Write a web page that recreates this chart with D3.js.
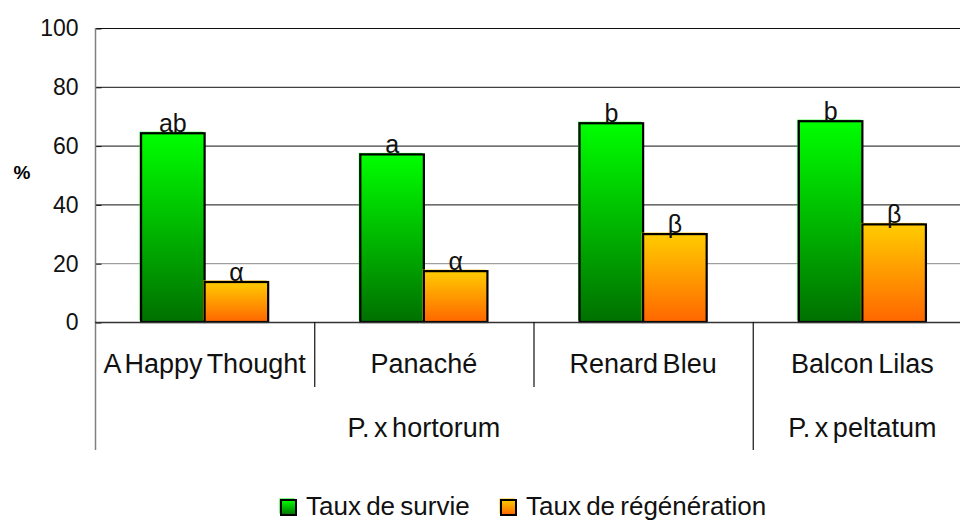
<!DOCTYPE html>
<html>
<head>
<meta charset="utf-8">
<script src="https://cdn.jsdelivr.net/npm/d3@7"></script>
<style>
  body { margin: 0; background: #fff; }
  svg { display: block; font-family: "Liberation Sans", Arial, sans-serif; }
</style>
</head>
<body>
<svg width="960" height="523"></svg>
<script>
// data
var cultivars = ["A Happy Thought", "Panaché", "Renard Bleu", "Balcon Lilas"];
var species = ["P. x hortorum", "P. x hortorum", "P. x hortorum", "P. x peltatum"];
var seriesNames = ["Taux de survie", "Taux de régénération"];
var survie = [64.2, 57.0, 67.6, 68.3];
var regeneration = [13.6, 17.3, 29.9, 33.2];
var survieLetters = ["ab", "a", "b", "b"];
var regenLetters = ["α", "α", "β", "β"];
var yTicks = [0, 20, 40, 60, 80, 100];

var svg = d3.select("svg");

var x = d3.scaleBand().domain(cultivars).range([95, 972]).paddingInner(0).paddingOuter(0);
var xs = d3.scaleBand().domain(seriesNames).range([0, x.bandwidth()]).paddingInner(0).paddingOuter(0.725);
var y = d3.scaleLinear().domain([0, 100]).range([322, 28]);

// gradients
var defs = svg.append("defs");
function grad(id, top, bottom) {
  var g = defs.append("linearGradient").attr("id", id)
    .attr("x1", 0).attr("y1", 0).attr("x2", 0).attr("y2", 1);
  g.append("stop").attr("offset", "0%").attr("stop-color", top);
  g.append("stop").attr("offset", "100%").attr("stop-color", bottom);
}
grad("gGreen", "#00ff00", "#007000");
grad("gOrange", "#ffcc00", "#ff6600");
var fills = ["url(#gGreen)", "url(#gOrange)"];
var edge = ["#00ee00", "#ffc000"];

// grid lines
svg.append("g").selectAll("line")
  .data(yTicks.filter(function (d) { return d > 0; }))
  .enter().append("line")
  .attr("x1", 95).attr("x2", 960)
  .attr("y1", function (d) { return y(d) + 0.5; })
  .attr("y2", function (d) { return y(d) + 0.5; })
  .attr("stroke", function (d) { return d == 20 ? "#888" : "#111"; })
  .attr("stroke-width", 1);

// y axis
var yAxis = svg.append("g").attr("transform", "translate(95.5,0.5)")
  .call(d3.axisLeft(y).tickValues(yTicks).tickSize(7).tickPadding(10));
yAxis.select(".domain").remove();
yAxis.selectAll(".tick line").attr("stroke", "#111").attr("x2", 6);
yAxis.selectAll("text").attr("font-size", 23).attr("fill", "#111")
  .attr("font-family", "'Liberation Sans', Arial, sans-serif");
svg.append("line").attr("x1", 95.5).attr("x2", 95.5).attr("y1", 28).attr("y2", 450)
  .attr("stroke", "#808080").attr("stroke-width", 1.5);

svg.append("text").attr("x", 22).attr("y", 179).attr("text-anchor", "middle")
  .attr("font-size", 19).attr("font-weight", "bold").text("%");

// bars
var rows = cultivars.map(function (c, i) {
  return { cat: c, vals: [survie[i], regeneration[i]], labs: [survieLetters[i], regenLetters[i]] };
});

var group = svg.append("g").selectAll("g").data(rows).enter().append("g")
  .attr("transform", function (d) { return "translate(" + x(d.cat) + ",0)"; });

var cells = group.selectAll("g").data(function (d) {
  return d.vals.map(function (v, k) { return { s: seriesNames[k], k: k, v: v, lab: d.labs[k] }; });
}).enter().append("g");

// colored offset edge
cells.append("rect")
  .attr("x", function (d) { return xs(d.s) - 1.5; })
  .attr("y", function (d) { return y(d.v) - 1.5; })
  .attr("width", xs.bandwidth())
  .attr("height", function (d) { return y(0) - y(d.v); })
  .attr("fill", function (d) { return edge[d.k]; });

cells.append("rect")
  .attr("x", function (d) { return xs(d.s); })
  .attr("y", function (d) { return y(d.v); })
  .attr("width", xs.bandwidth())
  .attr("height", function (d) { return y(0) - y(d.v); })
  .attr("fill", function (d) { return fills[d.k]; })
  .attr("stroke", "#000").attr("stroke-width", 2.2);

cells.append("text")
  .attr("x", function (d) { return xs(d.s) + xs.bandwidth() / 2; })
  .attr("y", function (d) { return y(d.v) - 1; })
  .attr("text-anchor", "middle")
  .attr("font-size", 25).attr("fill", "#111")
  .text(function (d) { return d.lab; });

// category axis
svg.append("line").attr("x1", 95).attr("x2", 960).attr("y1", 322.5).attr("y2", 322.5)
  .attr("stroke", "#333").attr("stroke-width", 1.5);

svg.append("g").selectAll("line").data(cultivars.slice(1)).enter().append("line")
  .attr("x1", function (d) { return x(d) + 0.5; })
  .attr("x2", function (d) { return x(d) + 0.5; })
  .attr("y1", 322)
  .attr("y2", function (d, i) { return species[i] != species[i + 1] ? 450 : 387; })
  .attr("stroke", "#111").attr("stroke-width", 1.2);

svg.append("g").selectAll("text").data(cultivars).enter().append("text")
  .attr("x", function (d) { return x(d) + x.bandwidth() / 2; })
  .attr("y", 373)
  .attr("text-anchor", "middle")
  .attr("font-size", 27).attr("word-spacing", -3).attr("fill", "#111")
  .text(function (d) { return d; });

// species groups
var groups = [];
species.forEach(function (s, i) {
  var last = groups[groups.length - 1];
  if (last && last.name == s) last.end = cultivars[i];
  else groups.push({ name: s, start: cultivars[i], end: cultivars[i] });
});
svg.append("g").selectAll("text").data(groups).enter().append("text")
  .attr("x", function (d) { return (x(d.start) + x(d.end) + x.bandwidth()) / 2; })
  .attr("y", 437)
  .attr("text-anchor", "middle")
  .attr("font-size", 27).attr("word-spacing", -3).attr("fill", "#111")
  .text(function (d) { return d.name; });

// legend
var legendPos = [281, 501];
var leg = svg.append("g").selectAll("g").data(seriesNames).enter().append("g")
  .attr("transform", function (d, i) { return "translate(" + legendPos[i] + ",500)"; });
leg.append("rect").attr("x", -1.5).attr("y", -1.5).attr("width", 15).attr("height", 15)
  .attr("fill", function (d, i) { return edge[i]; });
leg.append("rect").attr("width", 15).attr("height", 15)
  .attr("fill", function (d, i) { return fills[i]; })
  .attr("stroke", "#000").attr("stroke-width", 2);
leg.append("text").attr("x", 25).attr("y", 15)
  .attr("font-size", 26).attr("word-spacing", -2).attr("fill", "#111")
  .text(function (d) { return d; });
</script>
</body>
</html>
